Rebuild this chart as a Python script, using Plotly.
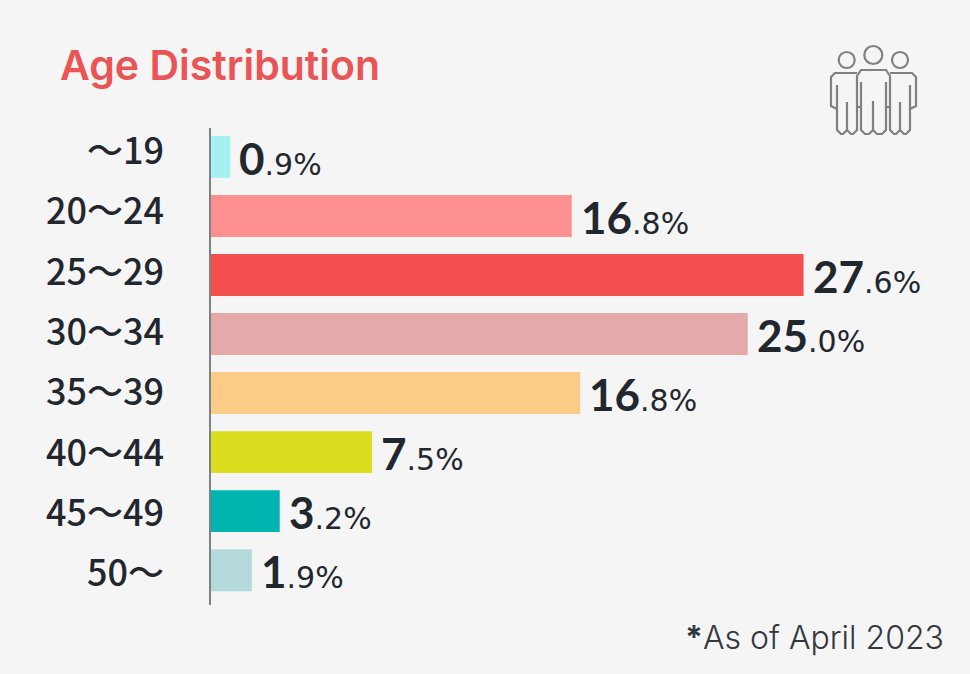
import plotly.graph_objects as go

categories = ["〜19", "20〜24", "25〜29", "30〜34", "35〜39", "40〜44", "45〜49", "50〜"]
bar_lengths = [0.9, 16.8, 27.6, 25.0, 17.2, 7.5, 3.2, 1.9]
whole_labels = ["0", "16", "27", "25", "16", "7", "3", "1"]
fraction_labels = [".9%", ".8%", ".6%", ".0%", ".8%", ".5%", ".2%", ".9%"]
bar_colors = ["#a5f0f0", "#ff9090", "#f44f4f", "#e6a9a9", "#fccb87", "#d9df1f", "#00b5b0", "#b5dadc"]

W, H = 970, 674
BG = "#f5f5f6"
INK = "#22272e"
SANS = "Lato"
CJK = "Noto Sans CJK JP"


def fx(x):
    return x / W


def fy(y):
    return 1 - y / H


def path(points):
    parts = []
    for cmd, *xy in points:
        if xy:
            parts.append(f"{cmd} {fx(xy[0]):.5f} {fy(xy[1]):.5f}")
        else:
            parts.append(cmd)
    return " ".join(parts)


fig = go.Figure()
fig.add_trace(go.Bar(
    x=bar_lengths, y=categories, orientation="h", width=0.71,
    marker=dict(color=bar_colors, line=dict(width=0)), hoverinfo="skip",
))
# Invisible companion trace: carries the category labels on their own axis.
fig.add_trace(go.Scatter(
    x=bar_lengths, y=categories, yaxis="y2", mode="markers",
    marker=dict(opacity=0), hoverinfo="skip",
))

annotations = []
for c, v, a, b in zip(categories, bar_lengths, whole_labels, fraction_labels):
    annotations.append(dict(
        x=v, y=c, xref="x", yref="y", xanchor="left", yanchor="middle",
        xshift=7, yshift=-1, showarrow=False, align="left",
        text=f'<b>{a}</b><span style="font-family:DejaVu Sans;font-size:30px">{b}</span>',
        font=dict(family=SANS, size=44, color=INK),
    ))
annotations.append(dict(
    x=fx(58), y=fy(65), xref="paper", yref="paper", xanchor="left", yanchor="middle",
    showarrow=False, text="Age Distribution",
    font=dict(family="Inter", size=41, color="#ea5455", weight=600),
))
annotations.append(dict(
    x=fx(946), y=fy(637), xref="paper", yref="paper", xanchor="right", yanchor="middle",
    showarrow=False, text="<b>*</b>As of April 2023",
    font=dict(family="Inter", size=32, color="#33383e", weight=300),
))

icon = dict(type="path", xref="paper", yref="paper", line=dict(color="#808080", width=2.2))
heads = [(846.7, 60, 8), (873.3, 55, 9), (900, 60, 8)]
shapes = []
for cx, cy, r in heads:
    shapes.append(dict(type="circle", xref="paper", yref="paper",
                       x0=fx(cx - r), x1=fx(cx + r), y0=fy(cy + r), y1=fy(cy - r),
                       line=dict(color="#808080", width=2.2)))
strokes = [
    # middle figure outline
    [("M", 857, 107), ("L", 857, 76), ("L", 861, 70), ("L", 886, 70), ("L", 890, 76), ("L", 890, 107),
     ("L", 886, 107), ("L", 886, 82), ("M", 861, 82), ("L", 861, 130), ("L", 865, 134), ("L", 869, 134),
     ("L", 873, 130), ("L", 873, 101), ("M", 873, 130), ("L", 877, 134), ("L", 882, 134), ("L", 886, 130),
     ("L", 886, 107), ("M", 857, 107), ("L", 861, 107)],
    # left figure outline
    [("M", 857, 73), ("L", 835, 73), ("L", 831, 77), ("L", 831, 106), ("L", 837, 109), ("M", 837, 85),
     ("L", 837, 130), ("L", 841, 134), ("L", 843, 134), ("L", 847, 130), ("L", 847, 102), ("M", 847, 130),
     ("L", 851, 134), ("L", 853, 134), ("L", 857, 130), ("L", 857, 107)],
    # right figure outline
    [("M", 890, 73), ("L", 912, 73), ("L", 916, 77), ("L", 916, 106), ("L", 910, 109), ("M", 910, 85),
     ("L", 910, 130), ("L", 906, 134), ("L", 904, 134), ("L", 900, 130), ("L", 900, 102), ("M", 900, 130),
     ("L", 896, 134), ("L", 894, 134), ("L", 890, 130), ("L", 890, 107)],
]
for s in strokes:
    shapes.append(dict(icon, path=path(s)))

fig.update_layout(
    width=W, height=H, autosize=False, showlegend=False,
    paper_bgcolor=BG, plot_bgcolor=BG,
    margin=dict(l=0, r=0, t=0, b=0, autoexpand=False),
    font=dict(family=SANS, color=INK),
    annotations=annotations, shapes=shapes,
    xaxis=dict(domain=[fx(211), 1], range=[0, 35.35], visible=False, fixedrange=True),
    yaxis=dict(
        domain=[fy(605), fy(128)], range=[7.59, -0.49], type="category",
        categoryorder="array", categoryarray=categories,
        showticklabels=False, ticks="", showgrid=False, zeroline=False,
        showline=True, linecolor="#7c8384", linewidth=2, anchor="x",
    ),
    yaxis2=dict(
        domain=[fy(605), fy(128)], range=[7.52, -0.39], type="category",
        categoryorder="array", categoryarray=categories,
        overlaying="y", anchor="x", side="left", showgrid=False, zeroline=False,
        showline=False, ticks="", ticklabelstandoff=46,
        tickfont=dict(family=CJK, size=36, color=INK, weight=500),
    ),
)
fig.write_html(
    "out.html", config=dict(displayModeBar=False),
    post_script="document.body.style.margin='0';document.body.style.overflow='hidden';",
)
